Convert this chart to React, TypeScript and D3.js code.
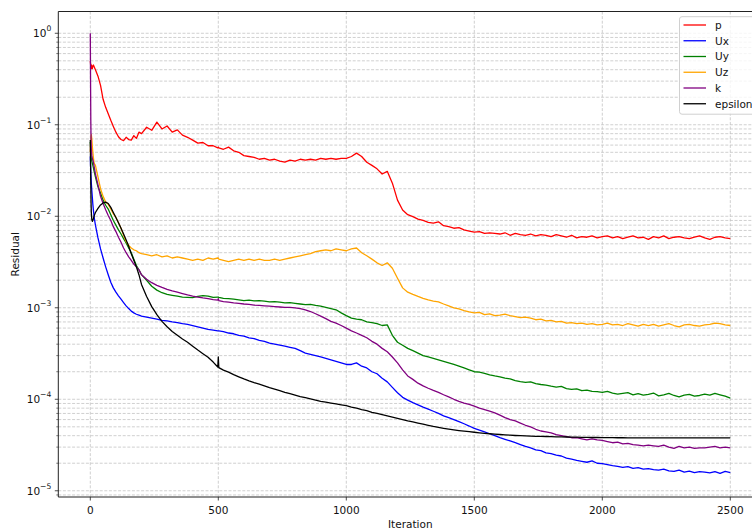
import React from 'react';
import * as d3 from 'd3';

// Iteration grid shared by every residual series (dense at the start, plus the step around 500)
const iterations: number[] = [
  0, 1, 2, 3, 4, 6, 8, 10, 12, 15,
  ...d3.range(20, 200, 10),
  ...d3.range(200, 500, 20),
  498, 500, 502,
  ...d3.range(520, 2501, 20),
];

const pRes = [
  0.50, 0.47, 0.44, 0.41, 0.45, 0.43, 0.41, 0.44, 0.45, 0.43,
  0.40, 0.34, 0.27, 0.19, 0.155, 0.132, 0.112, 0.096, 0.083, 0.074,
  0.069, 0.067, 0.073, 0.069, 0.068, 0.076, 0.071, 0.083,
  0.080, 0.094, 0.087, 0.107, 0.090, 0.097, 0.083, 0.088, 0.077, 0.073,
  0.068, 0.063, 0.064, 0.059, 0.059, 0.056, 0.057, 0.056, 0.054, 0.057, 0.052, 0.050,
  0.046, 0.045, 0.044, 0.042, 0.043, 0.041, 0.042, 0.040, 0.039, 0.041,
  0.040, 0.042, 0.041, 0.042, 0.041, 0.043, 0.042, 0.043, 0.042, 0.043,
  0.043, 0.045, 0.049, 0.045, 0.039, 0.036, 0.033, 0.029, 0.031, 0.023,
  0.0150, 0.0117, 0.0104, 0.0099, 0.0093, 0.0090, 0.0086, 0.0084, 0.0087, 0.0079,
  0.0077, 0.0074, 0.0075, 0.0071, 0.0069, 0.0067, 0.0068, 0.0065, 0.0066, 0.0065,
  0.0064, 0.0066, 0.0062, 0.0065, 0.0063, 0.0062, 0.0064, 0.0061, 0.0063, 0.0062,
  0.0060, 0.0063, 0.0061, 0.0059, 0.0062, 0.0058, 0.0060, 0.0059, 0.0061, 0.0058,
  0.0060, 0.0061, 0.0058, 0.0060, 0.0057, 0.0059, 0.0061, 0.0058, 0.0059, 0.0056,
  0.0060, 0.0058, 0.0061, 0.0057, 0.0059, 0.0060, 0.0058, 0.0057, 0.0059, 0.0061,
  0.0058, 0.0056, 0.0059, 0.0060, 0.0058, 0.0057,
];

const uxRes = [
  0.045, 0.036, 0.030, 0.026, 0.023, 0.019, 0.016, 0.0135, 0.0118, 0.0098,
  0.0080, 0.0058, 0.0044, 0.0035, 0.0028, 0.0023, 0.0019, 0.00165, 0.00148, 0.00135,
  0.00124, 0.00114, 0.00105, 0.00098, 0.00092, 0.00088, 0.00085, 0.00083,
  8.1e-4, 7.9e-4, 7.7e-4, 7.5e-4, 7.3e-4, 7.2e-4, 7.0e-4, 6.9e-4, 6.7e-4, 6.6e-4,
  6.4e-4, 6.2e-4, 6.0e-4, 5.8e-4, 5.7e-4, 5.6e-4, 5.6e-4, 5.6e-4, 5.5e-4, 5.3e-4, 5.2e-4, 5.0e-4,
  4.9e-4, 4.7e-4, 4.6e-4, 4.4e-4, 4.3e-4, 4.1e-4, 4.0e-4, 3.9e-4, 3.8e-4, 3.7e-4,
  3.6e-4, 3.4e-4, 3.2e-4, 3.1e-4, 3.0e-4, 2.9e-4, 2.8e-4, 2.7e-4, 2.6e-4, 2.5e-4,
  2.4e-4, 2.4e-4, 2.5e-4, 2.3e-4, 2.2e-4, 2.0e-4, 1.9e-4, 1.7e-4, 1.55e-4, 1.35e-4,
  1.18e-4, 1.05e-4, 9.8e-5, 9.2e-5, 8.7e-5, 8.2e-5, 7.8e-5, 7.4e-5, 7.0e-5, 6.6e-5,
  6.3e-5, 6.0e-5, 5.7e-5, 5.4e-5, 5.1e-5, 4.8e-5, 4.6e-5, 4.4e-5, 4.2e-5, 4.0e-5,
  3.8e-5, 3.65e-5, 3.5e-5, 3.35e-5, 3.2e-5, 3.05e-5, 2.95e-5, 2.8e-5, 2.75e-5, 2.6e-5,
  2.55e-5, 2.45e-5, 2.4e-5, 2.28e-5, 2.22e-5, 2.15e-5, 2.1e-5, 2.05e-5, 2.12e-5, 2.0e-5,
  1.98e-5, 1.93e-5, 1.88e-5, 1.85e-5, 1.8e-5, 1.84e-5, 1.76e-5, 1.79e-5, 1.72e-5, 1.75e-5,
  1.7e-5, 1.68e-5, 1.72e-5, 1.65e-5, 1.63e-5, 1.68e-5, 1.6e-5, 1.64e-5, 1.58e-5, 1.62e-5,
  1.6e-5, 1.57e-5, 1.62e-5, 1.55e-5, 1.63e-5, 1.58e-5,
];

const uyRes = [
  0.065, 0.058, 0.052, 0.047, 0.043, 0.040, 0.038, 0.036, 0.034, 0.031,
  0.027, 0.021, 0.018, 0.0150, 0.0132, 0.0120, 0.0104, 0.0090, 0.0080, 0.0071,
  0.0064, 0.0057, 0.0051, 0.0045, 0.0040, 0.0034, 0.0029, 0.0026,
  2.3e-3, 2.0e-3, 1.72e-3, 1.56e-3, 1.46e-3, 1.40e-3, 1.37e-3, 1.34e-3, 1.31e-3, 1.30e-3,
  1.29e-3, 1.33e-3, 1.36e-3, 1.34e-3, 1.30e-3, 1.31e-3, 1.31e-3, 1.30e-3, 1.27e-3, 1.26e-3, 1.24e-3, 1.22e-3,
  1.20e-3, 1.21e-3, 1.19e-3, 1.20e-3, 1.18e-3, 1.16e-3, 1.17e-3, 1.15e-3, 1.13e-3, 1.14e-3,
  1.12e-3, 1.10e-3, 1.08e-3, 1.09e-3, 1.06e-3, 1.04e-3, 1.01e-3, 9.8e-4, 9.5e-4, 8.8e-4,
  8.2e-4, 7.7e-4, 7.5e-4, 7.4e-4, 7.0e-4, 6.9e-4, 6.7e-4, 6.4e-4, 6.5e-4, 5.0e-4,
  4.2e-4, 3.9e-4, 3.6e-4, 3.4e-4, 3.2e-4, 3.0e-4, 2.9e-4, 2.8e-4, 2.7e-4, 2.6e-4,
  2.5e-4, 2.4e-4, 2.3e-4, 2.2e-4, 2.1e-4, 2.0e-4, 1.98e-4, 1.92e-4, 1.85e-4, 1.80e-4,
  1.76e-4, 1.70e-4, 1.67e-4, 1.60e-4, 1.56e-4, 1.53e-4, 1.55e-4, 1.48e-4, 1.45e-4, 1.43e-4,
  1.39e-4, 1.36e-4, 1.38e-4, 1.31e-4, 1.28e-4, 1.30e-4, 1.24e-4, 1.26e-4, 1.22e-4, 1.21e-4,
  1.19e-4, 1.22e-4, 1.17e-4, 1.14e-4, 1.16e-4, 1.18e-4, 1.12e-4, 1.15e-4, 1.11e-4, 1.13e-4,
  1.17e-4, 1.09e-4, 1.12e-4, 1.16e-4, 1.10e-4, 1.06e-4, 1.11e-4, 1.13e-4, 1.08e-4, 1.10e-4,
  1.14e-4, 1.11e-4, 1.16e-4, 1.12e-4, 1.08e-4, 1.03e-4,
];

const uzRes = [
  0.050, 0.060, 0.070, 0.075, 0.078, 0.070, 0.058, 0.050, 0.044, 0.038,
  0.036, 0.027, 0.020, 0.0165, 0.0143, 0.0135, 0.0120, 0.0106, 0.0097, 0.0085,
  0.0074, 0.0062, 0.0053, 0.0048, 0.0045, 0.0043, 0.0042, 0.0040,
  3.9e-3, 3.8e-3, 3.7e-3, 3.8e-3, 3.6e-3, 3.7e-3, 3.5e-3, 3.6e-3, 3.5e-3, 3.4e-3,
  3.3e-3, 3.4e-3, 3.3e-3, 3.5e-3, 3.4e-3, 3.5e-3, 3.5e-3, 3.4e-3, 3.3e-3, 3.2e-3, 3.3e-3, 3.4e-3,
  3.3e-3, 3.4e-3, 3.3e-3, 3.4e-3, 3.3e-3, 3.3e-3, 3.4e-3, 3.3e-3, 3.4e-3, 3.5e-3,
  3.6e-3, 3.7e-3, 3.8e-3, 3.9e-3, 4.1e-3, 4.2e-3, 4.3e-3, 4.2e-3, 4.4e-3, 4.3e-3,
  4.2e-3, 4.4e-3, 4.5e-3, 4.0e-3, 3.7e-3, 3.4e-3, 3.1e-3, 2.9e-3, 3.1e-3, 2.7e-3,
  2.1e-3, 1.65e-3, 1.48e-3, 1.40e-3, 1.33e-3, 1.27e-3, 1.22e-3, 1.18e-3, 1.16e-3, 1.10e-3,
  1.05e-3, 1.00e-3, 9.7e-4, 9.3e-4, 9.0e-4, 8.8e-4, 8.9e-4, 8.4e-4, 8.6e-4, 8.2e-4,
  8.3e-4, 8.5e-4, 8.2e-4, 8.0e-4, 7.8e-4, 7.9e-4, 7.7e-4, 7.4e-4, 7.5e-4, 7.2e-4,
  7.3e-4, 7.0e-4, 7.1e-4, 6.8e-4, 6.9e-4, 6.7e-4, 6.8e-4, 6.6e-4, 6.7e-4, 6.5e-4,
  6.6e-4, 6.8e-4, 6.5e-4, 6.6e-4, 6.4e-4, 6.7e-4, 6.5e-4, 6.3e-4, 6.6e-4, 6.4e-4,
  6.6e-4, 6.3e-4, 6.5e-4, 6.7e-4, 6.4e-4, 6.2e-4, 6.5e-4, 6.6e-4, 6.4e-4, 6.3e-4,
  6.5e-4, 6.6e-4, 6.8e-4, 6.7e-4, 6.5e-4, 6.4e-4,
];

const kRes = [
  1.0, 0.30, 0.11, 0.068, 0.054, 0.046, 0.043, 0.041, 0.039, 0.035,
  0.029, 0.022, 0.0165, 0.0138, 0.0118, 0.0102, 0.0090, 0.0077, 0.0068, 0.0059,
  0.0052, 0.0045, 0.0040, 0.0036, 0.0033, 0.0030, 0.0028, 0.0026,
  2.3e-3, 2.05e-3, 1.88e-3, 1.76e-3, 1.67e-3, 1.59e-3, 1.53e-3, 1.48e-3, 1.43e-3, 1.38e-3,
  1.34e-3, 1.31e-3, 1.28e-3, 1.26e-3, 1.23e-3, 1.21e-3, 1.26e-3, 1.20e-3, 1.17e-3, 1.15e-3, 1.13e-3, 1.12e-3,
  1.10e-3, 1.09e-3, 1.07e-3, 1.06e-3, 1.05e-3, 1.04e-3, 1.03e-3, 1.02e-3, 1.01e-3, 1.01e-3,
  1.00e-3, 9.8e-4, 9.5e-4, 9.1e-4, 8.6e-4, 8.1e-4, 7.6e-4, 7.1e-4, 6.8e-4, 6.4e-4,
  6.0e-4, 5.6e-4, 5.3e-4, 5.0e-4, 4.7e-4, 4.3e-4, 4.0e-4, 3.6e-4, 3.3e-4, 2.9e-4,
  2.5e-4, 2.1e-4, 1.8e-4, 1.65e-4, 1.50e-4, 1.40e-4, 1.32e-4, 1.25e-4, 1.19e-4, 1.12e-4,
  1.06e-4, 1.00e-4, 9.5e-5, 9.1e-5, 8.8e-5, 8.4e-5, 8.0e-5, 7.7e-5, 7.4e-5, 7.1e-5,
  6.7e-5, 6.3e-5, 6.0e-5, 5.8e-5, 5.5e-5, 5.2e-5, 5.0e-5, 4.7e-5, 4.5e-5, 4.4e-5,
  4.3e-5, 4.1e-5, 4.0e-5, 3.9e-5, 3.8e-5, 3.8e-5, 3.7e-5, 3.6e-5, 3.7e-5, 3.6e-5,
  3.55e-5, 3.45e-5, 3.35e-5, 3.4e-5, 3.25e-5, 3.3e-5, 3.2e-5, 3.15e-5, 3.1e-5, 3.15e-5,
  3.1e-5, 3.05e-5, 3.15e-5, 3.0e-5, 2.9e-5, 3.05e-5, 2.95e-5, 3.0e-5, 2.9e-5, 2.95e-5,
  2.95e-5, 3.0e-5, 3.05e-5, 2.95e-5, 3.0e-5, 2.95e-5,
];

const epsilonRes = [
  0.068, 0.040, 0.022, 0.014, 0.011, 0.0092, 0.0088, 0.0090, 0.0094, 0.0101,
  0.0110, 0.0122, 0.0133, 0.0140, 0.0143, 0.0138, 0.0125, 0.0110, 0.0097, 0.0085,
  0.0074, 0.0064, 0.0055, 0.0047, 0.0039, 0.0033, 0.0028, 0.0023,
  1.8e-3, 1.33e-3, 1.03e-3, 8.4e-4, 7.1e-4, 6.2e-4, 5.5e-4, 5.0e-4, 4.55e-4, 4.2e-4,
  3.8e-4, 3.45e-4, 3.15e-4, 2.88e-4, 2.55e-4, 2.25e-4, 2.9e-4, 2.22e-4, 2.08e-4, 1.98e-4, 1.86e-4, 1.76e-4,
  1.67e-4, 1.59e-4, 1.52e-4, 1.46e-4, 1.40e-4, 1.34e-4, 1.29e-4, 1.24e-4, 1.19e-4, 1.15e-4,
  1.11e-4, 1.07e-4, 1.04e-4, 1.01e-4, 9.8e-5, 9.5e-5, 9.3e-5, 9.1e-5, 8.9e-5, 8.7e-5,
  8.5e-5, 8.2e-5, 8.0e-5, 7.7e-5, 7.5e-5, 7.2e-5, 7.0e-5, 6.8e-5, 6.6e-5, 6.4e-5,
  6.2e-5, 6.0e-5, 5.8e-5, 5.65e-5, 5.5e-5, 5.35e-5, 5.2e-5, 5.05e-5, 4.93e-5, 4.82e-5,
  4.72e-5, 4.63e-5, 4.55e-5, 4.48e-5, 4.42e-5, 4.36e-5, 4.3e-5, 4.25e-5, 4.2e-5, 4.16e-5,
  4.12e-5, 4.08e-5, 4.05e-5, 4.02e-5, 4.0e-5, 3.98e-5, 3.96e-5, 3.94e-5, 3.93e-5, 3.92e-5,
  3.9e-5, 3.89e-5, 3.88e-5, 3.87e-5, 3.86e-5, 3.85e-5, 3.84e-5, 3.83e-5, 3.82e-5, 3.82e-5,
  3.81e-5, 3.81e-5, 3.8e-5, 3.8e-5, 3.8e-5, 3.79e-5, 3.79e-5, 3.79e-5, 3.79e-5, 3.78e-5,
  3.78e-5, 3.78e-5, 3.78e-5, 3.78e-5, 3.78e-5, 3.78e-5, 3.78e-5, 3.78e-5, 3.78e-5, 3.78e-5,
  3.78e-5, 3.78e-5, 3.78e-5, 3.78e-5, 3.78e-5, 3.78e-5,
];

const seriesNames = ['p', 'Ux', 'Uy', 'Uz', 'k', 'epsilon'];
const seriesColors = ['#ff0000', '#0000ff', '#008000', '#ffa500', '#800080', '#000000'];
const seriesValues = [pRes, uxRes, uyRes, uzRes, kRes, epsilonRes];

const xTicks = [0, 500, 1000, 1500, 2000, 2500];
const yExponents = [0, -1, -2, -3, -4, -5];
const xLimits: [number, number] = [-125, 2625];
const yLimits: [number, number] = [8.55e-6, 1.73];

const FONT = 'DejaVu Sans, sans-serif';

export default function App() {
  const width = 752;
  const height = 532;
  const plotLeft = 58.3;
  const plotRight = 762.3;
  const plotTop = 11.5;
  const plotBottom = 497;

  const x = d3.scaleLinear().domain(xLimits).range([plotLeft, plotRight]);
  const y = d3.scaleLog().domain(yLimits).range([plotBottom, plotTop]);

  const majorY = yExponents.map((e) => Math.pow(10, e));
  const minorY: number[] = [];
  for (let e = -6; e <= 0; e++) {
    for (let m = 2; m <= 9; m++) {
      const v = m * Math.pow(10, e);
      if (v >= yLimits[0] && v <= yLimits[1]) minorY.push(v);
    }
  }

  const lineGen = d3
    .line<[number, number]>()
    .x((d) => x(d[0]))
    .y((d) => y(d[1]));

  const paths = seriesValues.map((vals) => {
    const n = Math.min(vals.length, iterations.length);
    const pts: [number, number][] = [];
    for (let i = 0; i < n; i++) pts.push([iterations[i], vals[i]]);
    return lineGen(pts) || '';
  });

  const gridColor = '#c4c4c4';
  const legendX = 679.5;
  const legendY = 16.7;
  const rowH = 15.75;

  return (
    <svg
      width={width}
      height={height}
      style={{ position: 'absolute', left: 0, top: 0, background: '#fff' }}
      fontFamily={FONT}
    >
      <defs>
        <clipPath id="plot-area">
          <rect x={plotLeft} y={plotTop} width={plotRight - plotLeft} height={plotBottom - plotTop} />
        </clipPath>
      </defs>
      <rect x={0} y={0} width={width} height={height} fill="#fff" />

      {/* grid */}
      <g stroke={gridColor} strokeWidth={0.8} strokeDasharray="3,1.6" fill="none">
        {minorY.map((v, i) => (
          <line key={`gm${i}`} x1={plotLeft} x2={plotRight} y1={y(v)} y2={y(v)} />
        ))}
        {majorY.map((v, i) => (
          <line key={`gM${i}`} x1={plotLeft} x2={plotRight} y1={y(v)} y2={y(v)} />
        ))}
        {xTicks.map((t) => (
          <line key={`gx${t}`} x1={x(t)} x2={x(t)} y1={plotTop} y2={plotBottom} />
        ))}
      </g>

      {/* residual curves */}
      <g clipPath="url(#plot-area)" fill="none" strokeWidth={1.3} strokeLinejoin="round">
        {paths.map((d, i) => (
          <path key={seriesNames[i]} d={d} stroke={seriesColors[i]} />
        ))}
      </g>

      {/* spines */}
      <g stroke="#222" strokeWidth={1} fill="none">
        <line x1={plotLeft} x2={plotLeft} y1={plotTop} y2={plotBottom} />
        <line x1={plotLeft} x2={plotRight} y1={plotBottom} y2={plotBottom} />
        <line x1={plotLeft} x2={plotRight} y1={plotTop} y2={plotTop} />
        <line x1={plotRight} x2={plotRight} y1={plotTop} y2={plotBottom} />
      </g>

      {/* x axis ticks */}
      <g fontSize={10.5} fill="#111" textAnchor="middle">
        {xTicks.map((t) => (
          <g key={`xt${t}`}>
            <line x1={x(t)} x2={x(t)} y1={plotBottom} y2={plotBottom + 3.5} stroke="#222" strokeWidth={0.8} />
            <text x={x(t)} y={plotBottom + 17}>{t}</text>
          </g>
        ))}
      </g>

      {/* y axis ticks */}
      <g fontSize={10.5} fill="#111" textAnchor="end">
        {minorY.map((v, i) => (
          <line key={`ym${i}`} x1={plotLeft - 2} x2={plotLeft} y1={y(v)} y2={y(v)} stroke="#222" strokeWidth={0.6} />
        ))}
        {yExponents.map((e) => {
          const ty = y(Math.pow(10, e));
          return (
            <g key={`yt${e}`}>
              <line x1={plotLeft - 3.5} x2={plotLeft} y1={ty} y2={ty} stroke="#222" strokeWidth={0.8} />
              <text x={plotLeft - 7} y={ty + 4.2}>
                10
                <tspan dy={-6} fontSize={7.6}>
                  {e < 0 ? `\u2212${-e}` : `${e}`}
                </tspan>
              </text>
            </g>
          );
        })}
      </g>

      {/* axis labels */}
      <text x={(plotLeft + plotRight) / 2} y={528} fontSize={10.5} fill="#111" textAnchor="middle">
        Iteration
      </text>
      <text
        transform={`translate(19, ${(plotTop + plotBottom) / 2}) rotate(-90)`}
        fontSize={10.5}
        fill="#111"
        textAnchor="middle"
      >
        Residual
      </text>

      {/* legend */}
      <g>
        <rect
          x={legendX}
          y={legendY}
          width={77}
          height={97.5}
          rx={2.5}
          fill="#fff"
          fillOpacity={0.8}
          stroke="#d0d0d0"
          strokeWidth={1}
        />
        {seriesNames.map((name, i) => {
          const cy = legendY + 8.3 + i * rowH;
          return (
            <g key={`lg${name}`}>
              <line x1={683.5} x2={706} y1={cy} y2={cy} stroke={seriesColors[i]} strokeWidth={1.3} />
              <text x={715} y={cy + 3.8} fontSize={10.5} fill="#111">
                {name}
              </text>
            </g>
          );
        })}
      </g>
    </svg>
  );
}
